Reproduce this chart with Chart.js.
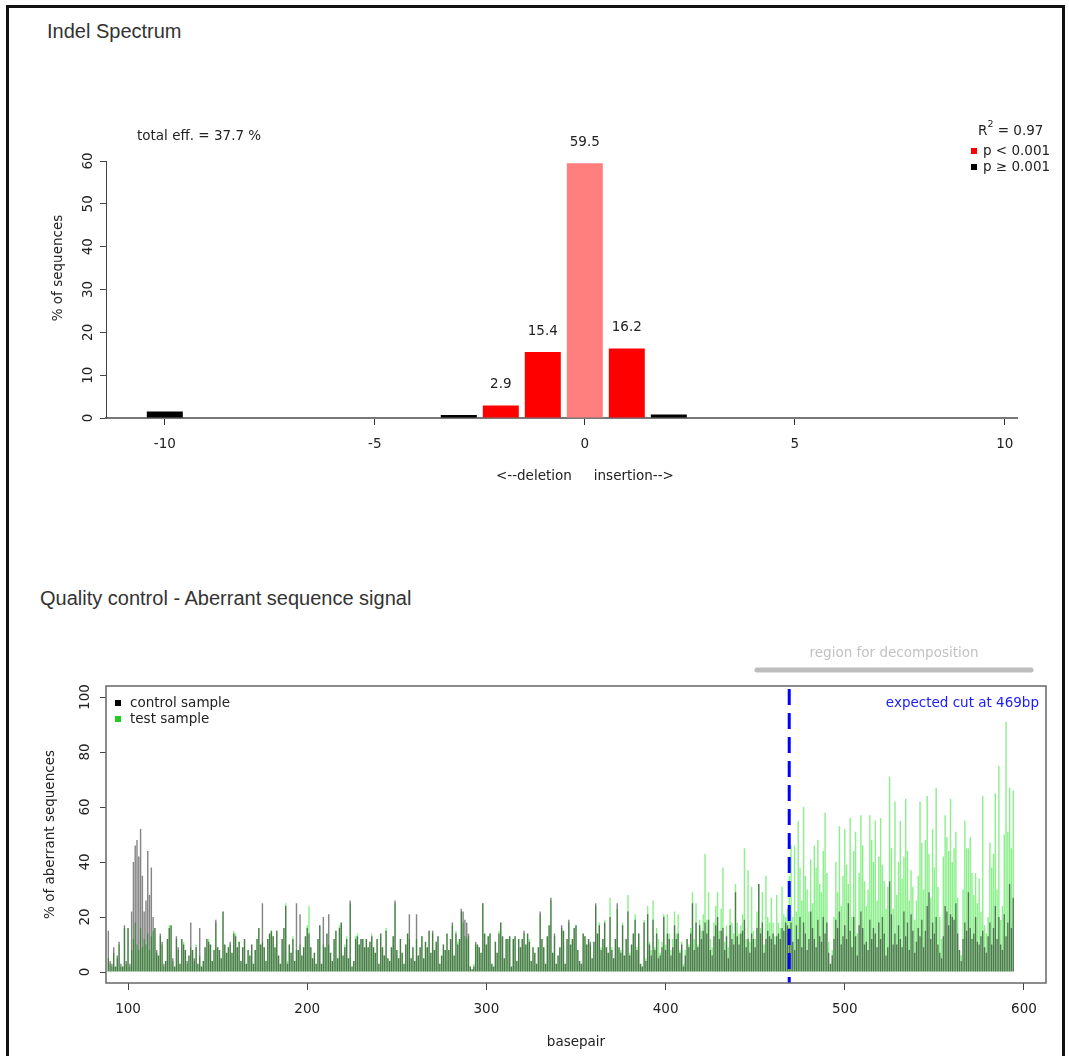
<!DOCTYPE html>
<html>
<head>
<meta charset="utf-8">
<title>Indel Spectrum</title>
<script src="https://cdn.jsdelivr.net/npm/chart.js@4.4.1/dist/chart.umd.min.js"></script>
<style>
  html, body { margin: 0; padding: 0; background: #fff; }
  body { width: 1069px; height: 1056px; position: relative; overflow: hidden; font-family: "Liberation Sans", Arial, sans-serif; }
  #frame { position: absolute; left: 6px; top: 5px; width: 1053px; height: 1100px; border: 3px solid #111; }
  .title { position: absolute; font-size: 20px; line-height: 24px; color: #333; white-space: nowrap; }
  canvas { position: absolute; left: 0; }
</style>
</head>
<body>
<div id="frame"></div>
<div class="title" style="left:47px; top:19px;">Indel Spectrum</div>
<div class="title" style="left:40px; top:586px;">Quality control - Aberrant sequence signal</div>
<canvas id="indelChart" width="1069" height="520" style="top:0px;"></canvas>
<canvas id="qcChart" width="1069" height="536" style="top:520px;"></canvas>
<script>
// ---- Indel spectrum data ----
const indelSizes = [-10, -9, -8, -7, -6, -5, -4, -3, -2, -1, 0, 1, 2, 3, 4, 5, 6, 7, 8, 9, 10];
const indelPercents = [1.5, 0, 0, 0, 0, 0, 0, 0.7, 2.9, 15.4, 59.5, 16.2, 0.8, 0, 0, 0, 0, 0, 0, 0, 0];
// p < 0.001 for these sizes
const indelSignificant = [false, false, false, false, false, false, false, false, true, true, true, true, false, false, false, false, false, false, false, false, false];
const totalEff = 37.7;
const rSquared = 0.97;

// ---- Aberrant sequence signal data (one value per basepair, starting at bpStart) ----
const bpStart = 89;
const controlSignal = [
  15, 4, 3, 9, 2, 6, 11, 3, 2, 17,
  4, 16, 3, 22, 40, 46, 48, 42, 52, 35,
  22, 26, 44, 28, 38, 20, 16, 8, 6, 14,
  11, 3, 4, 12, 16, 17, 5, 2, 13, 9,
  3, 12, 10, 8, 4, 6, 18, 8, 5, 9,
  3, 16, 2, 4, 9, 12, 11, 10, 4, 8,
  19, 9, 8, 5, 22, 10, 7, 9, 11, 7,
  14, 13, 9, 11, 4, 9, 12, 3, 8, 6,
  10, 3, 8, 12, 16, 10, 25, 9, 4, 12,
  14, 15, 13, 9, 15, 6, 3, 12, 16, 24,
  3, 10, 7, 12, 4, 25, 8, 21, 6, 9,
  13, 16, 14, 9, 5, 7, 3, 12, 17, 3,
  20, 9, 14, 21, 7, 4, 12, 15, 5, 16,
  18, 6, 9, 12, 5, 26, 2, 4, 12, 13,
  10, 12, 12, 9, 12, 9, 11, 13, 9, 7,
  12, 3, 14, 9, 6, 15, 5, 4, 9, 13,
  26, 8, 5, 12, 7, 3, 10, 14, 21, 5,
  9, 4, 21, 6, 9, 13, 5, 11, 9, 15,
  7, 15, 8, 11, 13, 3, 6, 10, 8, 14,
  8, 12, 18, 6, 14, 10, 12, 23, 22, 19,
  18, 14, 2, 1, 2, 11, 10, 9, 7, 25,
  14, 10, 13, 14, 3, 2, 11, 7, 14, 18,
  13, 5, 12, 12, 13, 2, 12, 13, 4, 12,
  9, 12, 15, 10, 14, 11, 4, 9, 7, 3,
  9, 22, 12, 9, 3, 13, 17, 27, 7, 14,
  3, 6, 9, 17, 15, 3, 12, 19, 10, 12,
  16, 17, 8, 4, 3, 14, 13, 10, 12, 11,
  5, 11, 25, 14, 17, 8, 12, 18, 9, 7,
  20, 8, 5, 12, 25, 9, 7, 17, 6, 12,
  22, 6, 10, 14, 19, 8, 14, 3, 2, 18,
  4, 21, 10, 6, 19, 8, 14, 5, 6, 9,
  20, 8, 14, 12, 6, 9, 17, 12, 14, 7,
  10, 2, 6, 12, 9, 14, 25, 8, 18, 9,
  17, 12, 15, 18, 14, 19, 8, 6, 13, 17,
  20, 12, 15, 16, 8, 13, 5, 17, 12, 10,
  29, 13, 10, 14, 15, 19, 9, 12, 7, 14,
  12, 9, 16, 32, 14, 18, 7, 12, 15, 13,
  12, 14, 10, 13, 14, 12, 16, 15, 18, 17,
  16, 18, 11, 8, 17, 12, 20, 9, 18, 14,
  8, 12, 22, 16, 12, 9, 19, 13, 11, 20,
  14, 18, 7, 3, 6, 12, 19, 16, 22, 10,
  13, 17, 12, 25, 15, 9, 20, 13, 6, 17,
  22, 16, 10, 11, 8, 19, 12, 16, 14, 9,
  18, 12, 20, 14, 6, 9, 33, 21, 10, 14,
  10, 17, 12, 9, 22, 13, 18, 8, 21, 15,
  7, 11, 16, 13, 19, 9, 15, 24, 29, 12,
  18, 14, 20, 10, 7, 5, 13, 24, 22, 17,
  21, 20, 19, 25, 14, 8, 4, 12, 18, 15,
  29, 16, 12, 14, 20, 11, 10, 13, 15, 9,
  7, 13, 18, 10, 16, 24, 12, 20, 10, 8,
  21, 13, 18, 32, 16, 27
];
const testSignal = [
  5, 3, 2, 7, 2, 5, 10, 2, 2, 16,
  3, 16, 2, 8, 12, 18, 10, 8, 16, 9,
  12, 10, 14, 8, 13, 15, 16, 7, 6, 13,
  10, 2, 4, 12, 17, 17, 4, 2, 12, 8,
  3, 12, 11, 8, 3, 6, 9, 8, 4, 10,
  3, 6, 2, 4, 9, 12, 12, 10, 4, 8,
  18, 9, 8, 5, 22, 10, 7, 9, 10, 7,
  15, 14, 9, 11, 4, 9, 12, 3, 8, 6,
  10, 3, 8, 12, 16, 10, 11, 9, 4, 12,
  14, 15, 13, 9, 15, 6, 3, 12, 16, 25,
  4, 10, 7, 13, 4, 8, 8, 10, 6, 9,
  13, 17, 24, 9, 5, 7, 3, 12, 17, 3,
  10, 9, 14, 10, 7, 4, 12, 15, 5, 17,
  18, 6, 10, 13, 5, 25, 2, 4, 13, 14,
  10, 12, 12, 9, 12, 9, 11, 14, 9, 7,
  12, 3, 14, 9, 6, 16, 5, 4, 9, 13,
  25, 8, 5, 12, 7, 3, 10, 14, 12, 5,
  9, 4, 12, 6, 9, 13, 5, 11, 9, 15,
  7, 14, 8, 11, 13, 3, 6, 10, 8, 14,
  8, 12, 17, 6, 15, 11, 12, 22, 18, 13,
  12, 13, 2, 1, 3, 10, 10, 9, 7, 25,
  14, 10, 13, 14, 3, 2, 11, 7, 15, 18,
  13, 5, 12, 12, 13, 2, 12, 13, 4, 12,
  9, 12, 14, 10, 14, 12, 4, 9, 7, 3,
  9, 21, 12, 9, 3, 13, 17, 26, 7, 13,
  3, 6, 9, 16, 15, 3, 12, 18, 10, 12,
  16, 17, 8, 4, 3, 14, 13, 10, 12, 10,
  5, 11, 24, 14, 18, 9, 12, 19, 9, 7,
  27, 9, 5, 12, 23, 9, 8, 18, 6, 12,
  28, 7, 10, 14, 21, 9, 14, 3, 2, 19,
  5, 24, 11, 8, 26, 9, 16, 12, 7, 11,
  21, 10, 21, 14, 8, 12, 22, 14, 21, 8,
  11, 3, 8, 12, 10, 16, 29, 12, 25, 10,
  19, 15, 21, 43, 19, 29, 12, 9, 18, 24,
  29, 15, 23, 38, 11, 17, 9, 23, 18, 14,
  32, 18, 14, 17, 21, 45, 12, 37, 11, 31,
  15, 12, 22, 32, 16, 29, 10, 35, 20, 18,
  27, 18, 13, 28, 18, 16, 31, 21, 20, 23,
  35, 46, 20, 46, 22, 55, 38, 26, 60, 35,
  30, 22, 41, 25, 46, 38, 48, 32, 29, 44,
  58, 36, 11, 3, 8, 20, 40, 29, 53, 24,
  35, 52, 39, 32, 56, 20, 44, 51, 14, 36,
  57, 46, 33, 24, 30, 57, 48, 40, 55, 26,
  42, 56, 39, 33, 23, 31, 71, 45, 23, 62,
  28, 40, 55, 34, 42, 63, 44, 26, 37, 31,
  19, 26, 35, 62, 47, 30, 48, 64, 43, 27,
  52, 38, 67, 31, 20, 12, 42, 57, 49, 44,
  63, 40, 45, 51, 27, 8, 6, 30, 55, 45,
  45, 49, 36, 28, 36, 25, 34, 22, 64, 17,
  14, 20, 47, 38, 43, 65, 30, 75, 19, 24,
  50, 91, 51, 67, 45, 66
];
const cutSite = 469;
const decompRegion = [451, 604];

const basepairs = controlSignal.map((v, i) => bpStart + i);

const FONT = '"DejaVu Sans", Verdana, sans-serif';
const TXT = '13.5px ' + FONT;
Chart.defaults.font.family = FONT;
Chart.defaults.color = '#222';

/* rotated y tick labels, R style */
function drawRotatedYTicks(chart, offset) {
  const { ctx, chartArea, scales } = chart;
  ctx.save();
  ctx.fillStyle = '#222';
  ctx.textAlign = 'center';
  ctx.textBaseline = 'middle';
  scales.y.ticks.forEach(t => {
    const y = scales.y.getPixelForValue(t.value);
    ctx.save();
    ctx.translate(chartArea.left - offset, y);
    ctx.rotate(-Math.PI / 2);
    ctx.fillText(String(t.value), 0, 0);
    ctx.restore();
  });
  ctx.restore();
}

function drawVerticalText(ctx, text, x, y) {
  ctx.save();
  ctx.translate(x, y);
  ctx.rotate(-Math.PI / 2);
  ctx.textAlign = 'center';
  ctx.textBaseline = 'middle';
  ctx.fillText(text, 0, 0);
  ctx.restore();
}

/* labels, legend and annotations of the indel chart */
const indelDecor = {
  id: 'indelDecor',
  afterDraw(chart) {
    const { ctx, chartArea, scales } = chart;
    const meta = chart.getDatasetMeta(0);
    ctx.save();
    ctx.font = TXT;
    ctx.fillStyle = '#222';
    ctx.textAlign = 'center';
    ctx.textBaseline = 'middle';
    meta.data.forEach((bar, i) => {
      if (indelSignificant[i]) ctx.fillText(indelPercents[i].toFixed(1), bar.x, bar.y - 21);
    });

    drawRotatedYTicks(chart, 18);
    drawVerticalText(ctx, '% of sequences', chartArea.left - 48, chartArea.top + 107);

    // x axis title centred on zero
    const x0 = scales.x.getPixelForValue(0);
    ctx.textAlign = 'right';
    ctx.fillText('<--deletion', x0 - 13, chartArea.bottom + 58);
    ctx.textAlign = 'left';
    ctx.fillText('insertion-->', x0 + 9, chartArea.bottom + 58);

    ctx.fillText('total eff. = ' + totalEff + ' %', chartArea.left + 31, chartArea.top - 25);

    // R^2 and legend
    let rx = 978, ry = 131;
    ctx.fillText('R', rx, ry);
    rx += ctx.measureText('R').width;
    ctx.font = '9.5px ' + FONT;
    ctx.fillText('2', rx, ry - 6);
    rx += ctx.measureText('2').width;
    ctx.font = TXT;
    ctx.fillText(' = ' + rSquared, rx, ry);

    ctx.fillStyle = '#ff0000';
    ctx.fillRect(971, 148, 6, 6);
    ctx.fillStyle = '#000';
    ctx.fillRect(971, 164, 6, 6);
    ctx.fillStyle = '#222';
    ctx.fillText('p < 0.001', 983, 151);
    ctx.fillText('p \u2265 0.001', 983, 167);
    ctx.restore();
  }
};

const indelChart = new Chart(document.getElementById('indelChart'), {
  type: 'bar',
  data: {
    labels: indelSizes,
    datasets: [{
      data: indelPercents,
      backgroundColor: indelSizes.map((s, i) => indelSignificant[i] ? (s === 0 ? '#ff7f7f' : '#ff0000') : '#000000'),
      borderWidth: 0,
      categoryPercentage: 1,
      barPercentage: 0.857
    }]
  },
  options: {
    responsive: false,
    devicePixelRatio: 1,
    animation: false,
    layout: { padding: { left: 56, right: 52, top: 161, bottom: 62 } },
    plugins: { legend: { display: false }, tooltip: { enabled: false } },
    scales: {
      x: {
        type: 'linear',
        min: -11.4,
        max: 10.29,
        offset: false,
        grid: { drawOnChartArea: false, offset: false, tickLength: 7, color: '#333' },
        border: { color: '#777', width: 2 },
        ticks: { stepSize: 5, includeBounds: false, padding: 11, font: { size: 13.5 }, color: '#222' },
        afterFit(scale) { scale.height = 40; }
      },
      y: {
        min: 0,
        max: 60,
        grid: { drawOnChartArea: false, tickLength: 6, color: '#444' },
        border: { color: '#444', width: 1 },
        ticks: { stepSize: 10, display: false },
        afterFit(scale) { scale.width = 50; }
      }
    }
  },
  plugins: [indelDecor]
});

/* box, cut site, decomposition region and legend of the QC chart */
const qcDecor = {
  id: 'qcDecor',
  afterDatasetsDraw(chart) {
    const { ctx, chartArea, scales } = chart;
    ctx.save();
    // cut site
    const xc = scales.x.getPixelForValue(cutSite);
    ctx.strokeStyle = '#0000ff';
    ctx.lineWidth = 3;
    ctx.setLineDash([16, 8]);
    ctx.beginPath();
    ctx.moveTo(xc, chartArea.top + 3);
    ctx.lineTo(xc, chartArea.bottom);
    ctx.stroke();
    ctx.setLineDash([]);

    // plot box
    ctx.strokeStyle = '#666';
    ctx.lineWidth = 1.5;
    ctx.strokeRect(chartArea.left, chartArea.top, chartArea.right - chartArea.left, chartArea.bottom - chartArea.top);
    ctx.restore();
  },
  afterDraw(chart) {
    const { ctx, chartArea, scales } = chart;
    ctx.save();
    ctx.font = TXT;
    ctx.textBaseline = 'middle';

    // region for decomposition
    const r0 = scales.x.getPixelForValue(decompRegion[0]);
    const r1 = scales.x.getPixelForValue(decompRegion[1]);
    ctx.strokeStyle = '#bdbdbd';
    ctx.lineWidth = 5;
    ctx.lineCap = 'round';
    ctx.beginPath();
    ctx.moveTo(r0, chartArea.top - 16);
    ctx.lineTo(r1, chartArea.top - 16);
    ctx.stroke();
    ctx.fillStyle = '#c2c2c2';
    ctx.textAlign = 'center';
    ctx.fillText('region for decomposition', (r0 + r1) / 2, chartArea.top - 33);

    // expected cut text
    ctx.fillStyle = '#1a1aff';
    ctx.textAlign = 'right';
    ctx.fillText('expected cut at ' + cutSite + 'bp', chartArea.right - 7, chartArea.top + 17);

    // legend
    ctx.fillStyle = '#000';
    ctx.fillRect(chartArea.left + 9, chartArea.top + 14, 6, 6);
    ctx.fillStyle = '#22cc22';
    ctx.fillRect(chartArea.left + 9, chartArea.top + 30, 6, 6);
    ctx.fillStyle = '#222';
    ctx.textAlign = 'left';
    ctx.fillText('control sample', chartArea.left + 24, chartArea.top + 17);
    ctx.fillText('test sample', chartArea.left + 24, chartArea.top + 33);

    // axes titles and tick labels
    drawRotatedYTicks(chart, 21);
    drawVerticalText(ctx, '% of aberrant sequences', chartArea.left - 56, (chartArea.top + chartArea.bottom) / 2);
    ctx.textAlign = 'center';
    ctx.fillText('basepair', (chartArea.left + chartArea.right) / 2, chartArea.bottom + 59);
    ctx.restore();
  }
};

const qcChart = new Chart(document.getElementById('qcChart'), {
  type: 'bar',
  data: {
    labels: basepairs,
    datasets: [
      {
        label: 'control sample',
        data: controlSignal,
        backgroundColor: 'rgba(0, 0, 0, 0.48)',
        borderWidth: 0,
        grouped: false,
        categoryPercentage: 1,
        barPercentage: 0.8
      },
      {
        label: 'test sample',
        data: testSignal,
        backgroundColor: 'rgba(0, 220, 0, 0.45)',
        borderWidth: 0,
        grouped: false,
        categoryPercentage: 1,
        barPercentage: 0.8
      }
    ]
  },
  options: {
    responsive: false,
    devicePixelRatio: 1,
    animation: false,
    layout: { padding: { left: 56, right: 23, top: 166, bottom: 33 } },
    plugins: { legend: { display: false }, tooltip: { enabled: false } },
    scales: {
      x: {
        type: 'linear',
        min: 87.7,
        max: 612.3,
        offset: false,
        grid: { drawOnChartArea: false, offset: false, tickLength: 7, color: '#444' },
        border: { display: false },
        ticks: { stepSize: 100, includeBounds: false, padding: 11, font: { size: 13.5 }, color: '#222' },
        afterFit(scale) { scale.height = 40; }
      },
      y: {
        min: -4,
        max: 104,
        grid: { drawOnChartArea: false, tickLength: 6, color: '#444' },
        border: { display: false },
        ticks: { stepSize: 20, includeBounds: false, display: false },
        afterFit(scale) { scale.width = 50; }
      }
    }
  },
  plugins: [qcDecor]
});
</script>
</body>
</html>
